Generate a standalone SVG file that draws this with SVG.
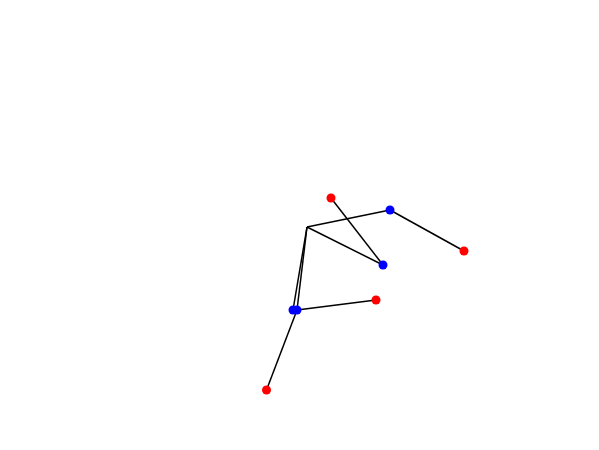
<svg xmlns="http://www.w3.org/2000/svg" width="599" height="450" viewBox="0 0 599 450">
<style>
.e{stroke:#000;stroke-width:1.5;fill:none}
.r{fill:#ff0000}
.b{fill:#0000ff}
</style>
<rect width="599" height="450" fill="#fff"/>
<g id="edges">
<line class="e" x1="307" y1="227" x2="390" y2="210"/>
<line class="e" x1="390" y1="210" x2="464" y2="251"/>
<line class="e" x1="307" y1="227" x2="383" y2="265"/>
<line class="e" x1="331" y1="198" x2="383" y2="265"/>
<line class="e" x1="307" y1="227" x2="293" y2="310"/>
<line class="e" x1="307" y1="227" x2="297" y2="310"/>
<line class="e" x1="297" y1="310" x2="376" y2="300"/>
<line class="e" x1="297" y1="310" x2="266.5" y2="390"/>
</g>
<g id="n1"><circle class="r" cx="331" cy="198" r="4.5"/></g>
<g id="n2"><circle class="b" cx="390" cy="210" r="4.5"/></g>
<g id="n3"><circle class="r" cx="464" cy="251" r="4.5"/></g>
<g id="n4"><circle class="b" cx="383" cy="265" r="4.5"/></g>
<g id="n5"><circle class="r" cx="376" cy="300" r="4.5"/></g>
<g id="n6"><circle class="b" cx="293" cy="310" r="4.5"/></g>
<g id="n7"><circle class="b" cx="297" cy="310" r="4.5"/></g>
<g id="n8"><circle class="r" cx="266.5" cy="390" r="4.5"/></g>
</svg>
